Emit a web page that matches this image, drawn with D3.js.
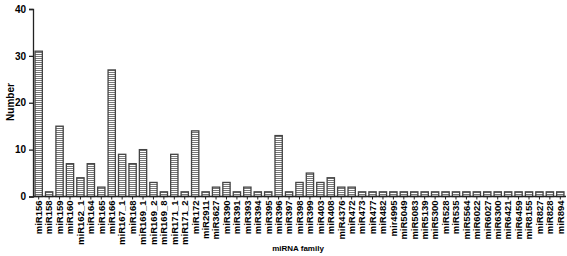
<!DOCTYPE html>
<html>
<head>
<meta charset="utf-8">
<script src="https://cdn.jsdelivr.net/npm/d3@7"></script>
<style>
  body { margin: 0; background: #fff; }
  svg { display: block; }
</style>
</head>
<body>
<div id="chart"></div>
<script>
var families = ["miR156", "miR158", "miR159", "miR160", "miR162_1", "miR164", "miR165", "miR166",
  "miR167_1", "miR168", "miR169_1", "miR169_2", "miR169_8", "miR171_1", "miR171_2", "miR172",
  "miR2911", "miR3627", "miR390", "miR391", "miR393", "miR394", "miR395", "miR396", "miR397",
  "miR398", "miR399", "miR403", "miR408", "miR4376", "miR472", "miR473", "miR477", "miR482",
  "mir4995", "miR5049", "miR5083", "miR5139", "miR5300", "miR528", "miR535", "miR5564",
  "miR6022", "miR6027", "miR6300", "miR6421", "miR6459", "miR8155", "miR827", "miR828", "miR894"];
var counts = [31, 1, 15, 7, 4, 7, 2, 27, 9, 7, 10, 3, 1, 9, 1, 14,
  1, 2, 3, 1, 2, 1, 1, 13, 1, 3, 5, 3, 4, 2, 2, 1, 1, 1,
  1, 1, 1, 1, 1, 1, 1, 1, 1, 1, 1, 1, 1, 1, 1, 1, 1];
var y_ticks = [0, 10, 20, 30, 40];

var width = 567, height = 256;
var font = "Liberation Sans, Arial, sans-serif";
var color_axis = "#222222";
var color_bar = "#444444";

var svg = d3.select("#chart").append("svg")
  .attr("width", width)
  .attr("height", height);

// stripe pattern for the bars
var pattern = svg.append("defs").append("pattern")
  .attr("id", "stripes")
  .attr("patternUnits", "userSpaceOnUse")
  .attr("width", 8)
  .attr("height", 2);
pattern.append("rect").attr("width", 8).attr("height", 2).attr("fill", "#ffffff");
pattern.append("rect").attr("width", 8).attr("height", 1).attr("fill", "#777777");

var x_scale = d3.scaleBand()
  .domain(families)
  .range([34, 565])
  .paddingInner(0.3)
  .paddingOuter(0.1);

var y_scale = d3.scaleLinear()
  .domain([0, 40])
  .range([196.5, 9]);

// bars
svg.append("g").selectAll("rect")
  .data(families)
  .enter().append("rect")
  .attr("x", d => x_scale(d))
  .attr("y", (d, i) => y_scale(counts[i]))
  .attr("width", x_scale.bandwidth())
  .attr("height", (d, i) => y_scale(0) - y_scale(counts[i]))
  .attr("fill", "url(#stripes)")
  .attr("stroke", color_bar)
  .attr("stroke-width", 1.3);

// y axis
var y_axis = d3.axisLeft(y_scale).tickValues(y_ticks).tickSize(4).tickPadding(3);
var gy = svg.append("g")
  .attr("transform", "translate(33,0)")
  .call(y_axis);
gy.select(".domain").attr("stroke", color_axis).attr("stroke-width", 1.3);
gy.selectAll(".tick line").attr("stroke", color_axis).attr("stroke-width", 1.3);
gy.selectAll("text")
  .style("font-family", font)
  .style("font-size", "10px")
  .style("font-weight", "bold")
  .attr("fill", "#000");

// x axis
var x_axis = d3.axisBottom(x_scale).tickSize(3).tickSizeOuter(0).tickPadding(2);
var gx = svg.append("g")
  .attr("transform", "translate(0," + y_scale(0) + ")")
  .call(x_axis);
gx.select(".domain").attr("stroke", color_axis).attr("stroke-width", 1.3)
  .attr("d", "M33,0H566");
gx.selectAll(".tick line").attr("stroke", color_axis);
gx.selectAll("text")
  .style("font-family", font)
  .style("font-size", "9.5px")
  .style("font-weight", "bold")
  .attr("fill", "#000")
  .attr("text-anchor", "end")
  .attr("dy", "0.35em")
  .attr("transform", "translate(0,4) rotate(-90)")
  .attr("x", 0)
  .attr("y", 0);

// axis titles
svg.append("text")
  .attr("x", 298)
  .attr("y", 251)
  .attr("text-anchor", "middle")
  .style("font-family", font)
  .style("font-size", "8px")
  .style("font-weight", "bold")
  .text("miRNA family");

svg.append("text")
  .attr("transform", "translate(10,102) rotate(-90)")
  .attr("text-anchor", "middle")
  .attr("dy", "0.35em")
  .style("font-family", font)
  .style("font-size", "10px")
  .style("font-weight", "bold")
  .text("Number");
</script>
</body>
</html>
